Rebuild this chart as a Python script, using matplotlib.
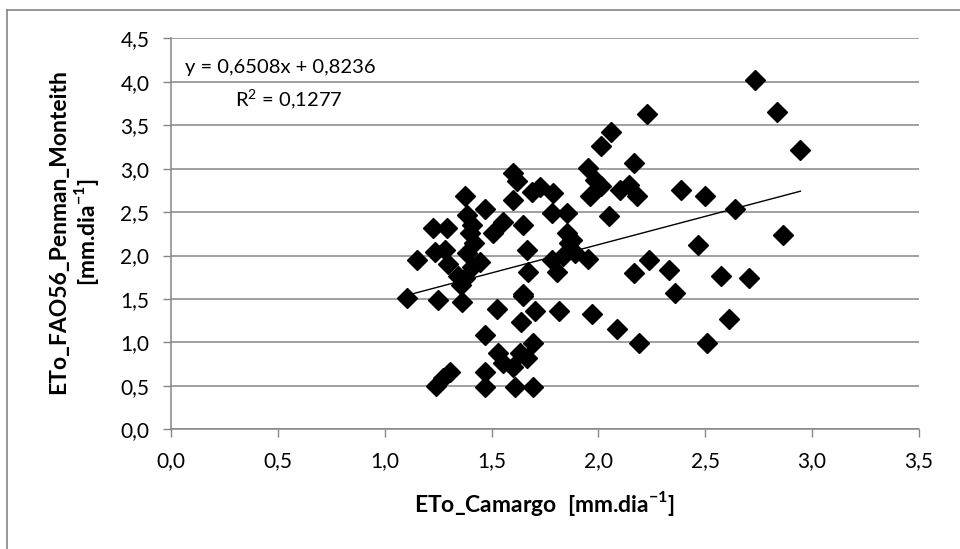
# Scatter of ETo Camargo vs ETo FAO56 Penman-Monteith with linear trend

import matplotlib
matplotlib.use('Agg')
import matplotlib.pyplot as plt
from matplotlib.lines import Line2D
import numpy as np

plt.rcParams['font.family'] = ['Lato', 'DejaVu Sans']
plt.rcParams['mathtext.fontset'] = 'custom'
plt.rcParams['mathtext.rm'] = 'Lato'
plt.rcParams['mathtext.bf'] = 'Lato:bold'

# Data (mm/dia)
eto_camargo = [2.733, 2.834, 2.945, 2.226, 2.058, 2.010, 2.168, 1.953, 1.984, 2.010,
               1.960, 2.101, 2.145, 2.179, 2.385, 2.499, 2.637, 2.049, 2.863, 2.468,
               2.236, 2.168, 2.330, 2.358, 2.572, 2.704, 1.971, 2.086, 2.190, 2.507,
               2.611, 1.953, 1.602, 1.617, 1.602, 1.688, 1.727, 1.789, 1.781, 1.851,
               1.555, 1.648, 1.851, 1.875, 1.665, 1.781, 1.836, 1.890, 1.672, 1.805,
               1.509, 1.470, 1.376, 1.227, 1.290, 1.150, 1.235, 1.283, 1.298, 1.387,
               1.407, 1.397, 1.417, 1.387, 1.407, 1.377, 1.357, 1.446, 1.345, 1.648,
               1.103, 1.250, 1.360, 1.524, 1.645, 1.704, 1.815, 1.636, 1.470, 1.693,
               1.532, 1.555, 1.633, 1.602, 1.665, 1.470, 1.470, 1.608, 1.696, 1.306,
               1.275, 1.240, 1.862]
eto_pm = [4.02, 3.65, 3.21, 3.63, 3.42, 3.26, 3.07, 3.01, 2.87, 2.80,
          2.68, 2.75, 2.81, 2.68, 2.75, 2.68, 2.54, 2.45, 2.24, 2.12,
          1.95, 1.80, 1.83, 1.57, 1.76, 1.74, 1.33, 1.15, 0.99, 0.99,
          1.27, 1.96, 2.95, 2.86, 2.64, 2.73, 2.79, 2.72, 2.49, 2.49,
          2.39, 2.35, 2.26, 2.18, 2.06, 1.95, 1.99, 2.03, 1.81, 1.81,
          2.26, 2.54, 2.68, 2.32, 2.32, 1.95, 2.04, 2.06, 1.90, 2.47,
          2.35, 2.26, 2.14, 2.03, 1.87, 1.74, 1.66, 1.93, 1.76, 1.56,
          1.51, 1.49, 1.46, 1.38, 1.53, 1.36, 1.36, 1.24, 1.085, 0.99,
          0.875, 0.76, 0.875, 0.72, 0.82, 0.66, 0.49, 0.49, 0.49, 0.66,
          0.59, 0.50, 2.14]

# Trend line as printed on the chart
slope = 0.6508
intercept = 0.8236
r2 = 0.1277

x_ticks = [0.0, 0.5, 1.0, 1.5, 2.0, 2.5, 3.0, 3.5]
y_ticks = [0.0, 0.5, 1.0, 1.5, 2.0, 2.5, 3.0, 3.5, 4.0, 4.5]

W, H = 960, 549
grey = '#868686'

fig = plt.figure(figsize=(W / 100, H / 100), dpi=100)
ax = fig.add_axes([171 / W, 1 - 429.3 / H, (919 - 171) / W, (429.3 - 38.3) / H])

# Points and trend
ax.plot(eto_camargo, eto_pm, linestyle='none', marker='D', ms=10.5,
        color='black', mec='black', zorder=3)
xl = np.array([min(eto_camargo), max(eto_camargo)])
ax.plot(xl, slope * xl + intercept, color='black', lw=1.0, zorder=4)

# Axes styling
ax.set_xlim(0, 3.5)
ax.set_ylim(0, 4.5)
ax.set_xticks(x_ticks)
ax.set_yticks(y_ticks)
ax.set_xticklabels([f'{v:.1f}'.replace('.', ',') for v in x_ticks])
ax.set_yticklabels([f'{v:.1f}'.replace('.', ',') for v in y_ticks])
ax.tick_params(direction='out', length=5.5, width=1, color=grey,
               labelsize=15, pad=10)
ax.grid(axis='y', color=grey, lw=1.1)
ax.set_axisbelow(True)
for side in ['top', 'right']:
    ax.spines[side].set_visible(False)
for side in ['left', 'bottom']:
    ax.spines[side].set_color(grey)
    ax.spines[side].set_linewidth(1.1)

# Equation text
fig.text(185 / W, 1 - 68 / H, 'y = 0,6508x + 0,8236', fontsize=14.5,
         ha='left', va='center')
fig.text(235 / W, 1 - 100 / H, 'R$^2$ = 0,1277', fontsize=14.5,
         ha='left', va='center')

# Axis titles
fig.text(545 / W, 1 - 503 / H, r'ETo_Camargo  [mm.dia$^{\mathbf{-1}}$]',
         fontsize=16.5, fontweight='bold', ha='center', va='center')
fig.text(74.5 / W, 1 - 232 / H, 'ETo_FAO56_Penman_Monteith\n' + r'[mm.dia$^{\mathbf{-1}}$]',
         fontsize=16.5, fontweight='bold', ha='center', va='center',
         rotation=90, multialignment='center', linespacing=1.15)

# Chart border (only top and left visible in the crop)
fig.add_artist(Line2D([7 / W, 1.0], [1 - 10 / H, 1 - 10 / H], color=grey, lw=1.2))
fig.add_artist(Line2D([7 / W, 7 / W], [0.0, 1 - 10 / H], color=grey, lw=1.2))

fig.savefig('out.png', dpi=100)
